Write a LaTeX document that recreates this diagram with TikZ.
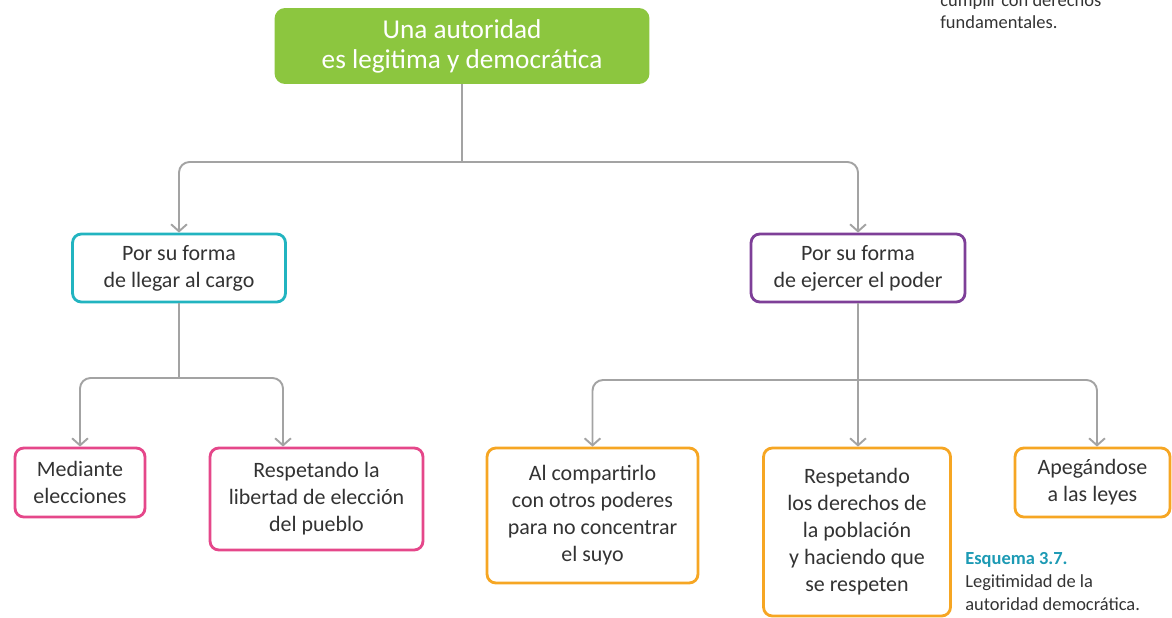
\documentclass[tikz,border=0pt]{standalone}
\usepackage{fontspec}
\setmainfont{Carlito}
\usetikzlibrary{arrows.meta}

\definecolor{verde}{HTML}{8CC63F}
\definecolor{cian}{HTML}{22B4C0}
\definecolor{morado}{HTML}{7E3F98}
\definecolor{rosa}{HTML}{E5478A}
\definecolor{naranja}{HTML}{F6A623}
\definecolor{linea}{HTML}{A3A3A3}
\definecolor{texto}{HTML}{333333}
\definecolor{azul}{HTML}{1C9AB4}

\begin{document}
\begin{tikzpicture}[x=0.02cm, y=-0.02cm,
  ttl/.style={fill=verde, rounded corners=6pt, text=white, align=center, inner sep=0pt, font=\fontsize{15.5}{17}\selectfont},
  caja/.style={draw, rounded corners=5pt, line width=1.6pt, fill=white, align=center, inner sep=0pt, text=texto, font=\fontsize{12.5}{15.4}\selectfont},
  conn/.style={draw=linea, line width=1.1pt, rounded corners=6pt, -{Straight Barb[length=4pt,width=9pt]}}]
\useasboundingbox (0,0) rectangle (1172,618);

\node[ttl, minimum width=7.5cm, minimum height=1.52cm] (raiz) at (462,46) {Una autoridad\\es legitima y democrática};

\node[caja, draw=cian, minimum width=4.26cm, minimum height=1.36cm] (llegar) at (179,268) {Por su forma\\de llegar al cargo};
\node[caja, draw=morado, minimum width=4.28cm, minimum height=1.36cm] (ejercer) at (858,268) {Por su forma\\de ejercer el poder};

\node[caja, draw=rosa, minimum width=2.6cm, minimum height=1.38cm] (elecciones) at (80,482.5) {Mediante\\elecciones};
\node[caja, draw=rosa, minimum width=4.26cm, minimum height=2.04cm] (libertad) at (316.5,499) {Respetando la\\libertad de elección\\del pueblo};
\node[caja, draw=naranja, minimum width=4.22cm, minimum height=2.7cm] (compartir) at (592.5,515.5) {Al compartirlo\\con otros poderes\\para no concentrar\\el suyo};
\node[caja, draw=naranja, minimum width=3.74cm, minimum height=3.36cm] (derechos) at (857,532) {Respetando\\los derechos de\\la población\\y haciendo que\\se respeten};
\node[caja, draw=naranja, minimum width=3.1cm, minimum height=1.38cm] (leyes) at (1092.5,482.5) {Apegándose\\a las leyes};

% connectors
\coordinate (bus1) at (462,162);
\coordinate (bus2) at (179,378);
\coordinate (bus3) at (858,380);
\draw[draw=linea, line width=1.1pt] (raiz.south) -- (bus1);
\draw[conn] (bus1) -| (llegar.north);
\draw[conn] (bus1) -| (ejercer.north);
\draw[draw=linea, line width=1.1pt] (llegar.south) -- (bus2);
\draw[conn] (bus2) -| (elecciones.north);
\draw[conn] (bus2) -| ([xshift=-0.67cm]libertad.north);
\draw[conn] (ejercer.south) -- (ejercer.south |- derechos.north);
\draw[conn] (bus3) -| (compartir.north);
\draw[conn] (bus3) -| ([xshift=0.09cm]leyes.north);

% notes
\node[anchor=north west, align=left, inner sep=0pt, text=texto, font=\fontsize{10.5}{13}\selectfont] (nota) at (940,-7) {cumplir con derechos\\fundamentales.};
\node[anchor=north west, align=left, inner sep=0pt, text=texto, font=\fontsize{10.5}{13}\selectfont] (pie) at (965,552) {\textcolor{azul}{\textbf{Esquema 3.7.}}\\Legitimidad de la\\autoridad democrática.};
\end{tikzpicture}
\end{document}
